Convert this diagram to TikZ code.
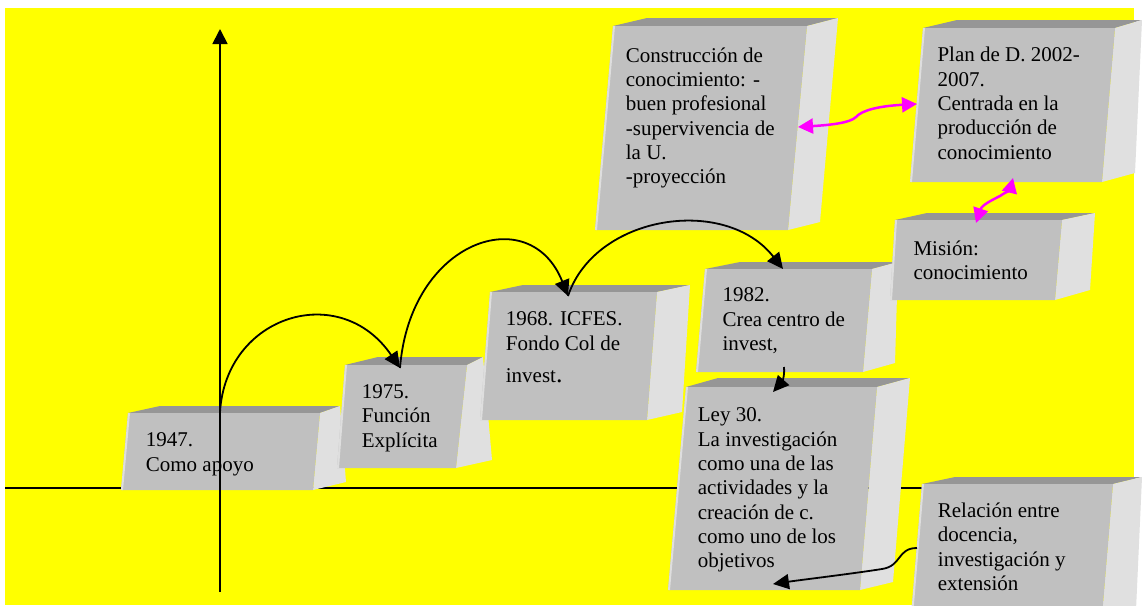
\documentclass[tikz,border=0pt]{standalone}
\usepackage{fontspec}
\setmainfont{Liberation Serif}
\usetikzlibrary{arrows.meta}
\definecolor{bgyellow}{RGB}{255,255,0}
\definecolor{frontc}{RGB}{192,192,192}
\definecolor{topc}{RGB}{150,150,150}
\definecolor{sidec}{RGB}{224,224,224}
\definecolor{edgec}{RGB}{222,222,222}
\definecolor{magc}{RGB}{255,0,255}
% A B C D = front face (tl, tr, br, bl); E F = back top (left,right); G = back bottom right
\newcommand\boxthreed[7]{%
  \fill[topc] (#1) -- (#5) -- (#6) -- (#2) -- cycle;
  \fill[sidec] (#2) -- (#6) -- (#7) -- (#3) -- cycle;
  \fill[frontc] (#1) -- (#2) -- (#3) -- (#4) -- cycle;
  \draw[edgec, line width=2pt] ([xshift=1pt]#4) -- ([xshift=1pt]#1);
}
\tikzset{
  boxtext/.style={anchor=north west, inner sep=0pt, align=left,
    font=\fontsize{21}{24.3}\selectfont, text=black},
  axisline/.style={line width=1.8pt, black},
  conn/.style={line width=1.8pt, black, -{Triangle[length=16pt,width=15pt]}},
  magconn/.style={draw=magc, line width=2.5pt,
    {Triangle[length=15pt,width=15pt]}-{Triangle[length=15pt,width=15pt]}},
}
\begin{document}
\begin{tikzpicture}[x=1pt,y=-1pt]
\useasboundingbox (0,0) rectangle (1142,605);
\clip (0,0) rectangle (1142,605);
\fill[white] (0,0) rectangle (1142,605);
\fill[bgyellow] (5,8) rectangle (1134,605);

% named points
\coordinate (h0) at (5,488);
\coordinate (h1) at (922,488);
\coordinate (ax0) at (220,592);
\coordinate (ax1) at (220,29);
\coordinate (s1947) at (220,412);
\coordinate (t1975) at (400,368);
\coordinate (t1968) at (568,296);
\coordinate (t1982) at (783,269);
\coordinate (b1982) at (784,367);
\coordinate (t30) at (773,392);
\coordinate (lrel) at (917,548);
\coordinate (in30) at (773,584);
\coordinate (rcon) at (798,127);
\coordinate (lplan) at (917,104);
\coordinate (bplan) at (1013,178);
\coordinate (tmis) at (976,223);

% horizontal axis (behind boxes)
\draw[axisline] (h0) -- (h1);

% Construccion
\boxthreed{613,26}{807,26}{788,230}{595,230}{647,18}{838,18}{820,222}
\node[boxtext] (con) at (625.7,45) {\strut Construcción de\\conocimiento: -\\buen profesional\\-supervivencia de\\la U.\\-proyección};

% Plan
\boxthreed{923,28}{1115,28}{1102,182}{910,182}{957,20}{1142,20}{1135,173}
\node[boxtext] (plan) at (937.3,44.7) {\strut Plan de D. 2002-\\2007.\\Centrada en la\\producción de\\conocimiento};

% 1982
\boxthreed{705,269}{872,269}{863,372}{696,372}{740,262}{898,262}{895,363}
\node[boxtext] (n1982) at (722.3,284.7) {\strut 1982.\\Crea centro de\\invest,};

% Mision
\boxthreed{895,220}{1062,220}{1055,300}{890,300}{927,213}{1095,213}{1090,290}
\node[boxtext] (mis) at (913.3,238) {\strut Misión:\\conocimiento};

% Ley 30
\boxthreed{686,387}{877,387}{860,590}{668,590}{718,378}{910,378}{893,582}
\node[boxtext] (ley) at (697.7,404.7) {\strut Ley 30.\\La investigación\\como una de las\\actividades y la\\creación de c.\\como uno de los\\objetivos};

% Relacion
\boxthreed{922,484}{1113,484}{1100,640}{909,640}{955,477}{1142,477}{1135,632}
\node[boxtext] (rel) at (937.7,500.3) {\strut Relación entre\\docencia,\\investigación y\\extensión};

% 1947
\boxthreed{128,413}{320,413}{313,490}{121,490}{160,406}{340,406}{346,482}
\node[boxtext] (n1947) at (145.7,429.7) {\strut 1947.\\Como apoyo};

% 1975
\boxthreed{345,365}{467,365}{456,468}{337,468}{378,357}{483,357}{492,460}
\node[boxtext] (n1975) at (361.7,381.3) {\strut 1975.\\Función\\Explícita};

% 1968
\boxthreed{490,292}{657,292}{647,420}{480,420}{523,285}{690,285}{682,412}
\node[boxtext] (n1968) at (505.7,308.7) {\strut 1968. ICFES.\\Fondo Col de\\[8pt]invest{\fontsize{26}{30}\selectfont .}};

% vertical axis (in front)
\draw[axisline, -{Triangle[length=15pt,width=15pt]}] (ax0) -- (ax1);

% black connectors
\draw[conn] (s1947) .. controls (226,315) and (340,280) .. (t1975);
\draw[conn] (t1975) .. controls (410,240) and (530,200) .. (t1968);
\draw[conn] (t1968) .. controls (595,215) and (725,195) .. (t1982);
\draw[conn] (b1982) .. controls (785,378) and (781,383) .. (t30);
\draw[conn] (lrel) .. controls (897,548) and (902,566) .. (882,569)
  .. controls (850,574) and (800,580) .. (in30);

% magenta connectors
\draw[magconn] (rcon) .. controls (830,125) and (850,123) .. (856,117)
  .. controls (862,110) and (880,106) .. (lplan);
\draw[magconn] (tmis) .. controls (982,205) and (992,200) .. (1000,196)
  .. controls (1006,192) and (1010,190) .. (bplan);
\end{tikzpicture}
\end{document}
